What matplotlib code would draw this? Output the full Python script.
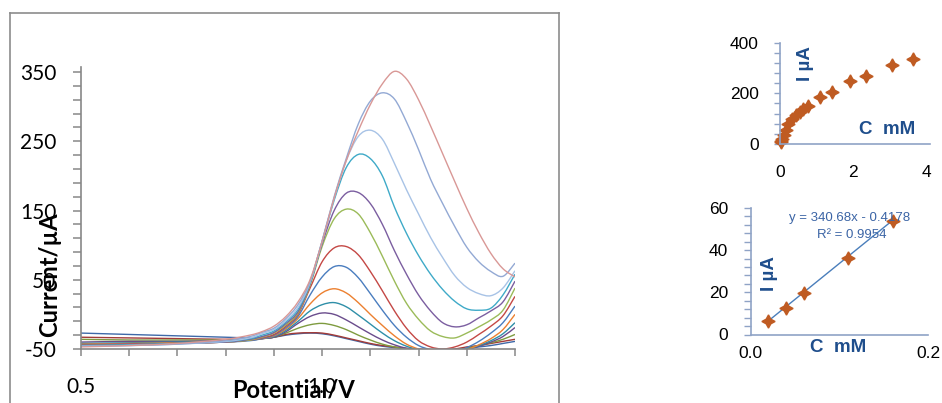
import numpy as np
import matplotlib
matplotlib.use("Agg")
import matplotlib.pyplot as plt
from matplotlib.lines import Line2D
from matplotlib.path import Path
from matplotlib.patches import PathPatch

plt.rcParams['font.family'] = ['Lato', 'DejaVu Sans']

# ---------------- data ----------------
potential = [0.50, 0.60, 0.70, 0.80, 0.85, 0.875, 0.90, 0.925, 0.95, 0.975,
             1.00, 1.025, 1.05, 1.075, 1.10, 1.125, 1.15, 1.175, 1.20, 1.225,
             1.25, 1.275, 1.30, 1.325, 1.35, 1.375, 1.40]

cur_blank = [-27, -29, -31, -33, -34, -34, -33, -30, -28, -27, -28, -31, -35, -39,
             -43, -46, -48, -50, -51, -52, -52, -51, -49, -47, -45, -42, -39]
cur_darkred = [-33, -34, -35, -36, -36, -35, -33, -29, -27, -26.5, -27, -30, -34, -38,
               -42, -45, -47, -49, -50, -51, -51, -50, -47, -45, -42, -39, -36]
cur_olive = [-36, -37, -37, -37, -36, -35, -33, -27, -20, -15, -13, -16, -22, -30,
             -37, -43, -47, -50, -52, -53, -53, -52, -49, -45, -41, -36, -29]
cur_darkpurple = [-40, -39, -39, -38, -37, -35, -33, -25, -13, -3, 2, 0, -8, -18,
                  -28, -37, -44, -49, -52, -54, -55, -54, -51, -46, -40, -32, -19]
cur_darkteal = [-42, -41, -40, -39, -37, -35, -32, -23, -10, 5, 14, 17, 11, -1,
                -14, -27, -38, -46, -51, -54, -55, -54, -51, -45, -38, -28, -12]
cur_orange = [-43, -42, -41, -39, -37, -35, -31, -21, -6, 15, 31, 37, 31, 17,
              0, -16, -31, -43, -50, -54, -56, -55, -51, -44, -35, -22, 0]
cur_blue = [-44, -43, -42, -40, -38, -35, -30, -19, -3, 28, 54, 69, 68, 53,
            30, 6, -16, -33, -45, -51, -54, -53, -48, -39, -27, -12, 12]
cur_red = [-44, -43, -42, -40, -37, -34, -29, -17, 0, 38, 76, 96, 98, 86,
           62, 34, 5, -20, -38, -47, -50, -47, -40, -29, -17, -2, 26]
cur_green = [-45, -44, -42, -40, -37, -33, -27, -15, 2, 42, 98, 138, 152, 145,
             118, 84, 48, 16, -7, -24, -32, -34, -27, -18, -8, 6, 38]
cur_purple = [-45, -44, -42, -40, -36, -32, -26, -13, 4, 44, 102, 150, 175, 176,
              160, 130, 92, 58, 28, 5, -12, -18, -15, -5, 5, 18, 48]
cur_teal = [-45, -44, -42, -39, -35, -30, -24, -11, 7, 45, 105, 165, 212, 231,
            225, 200, 155, 117, 85, 58, 36, 19, 8, 6, 9, 28, 58]
cur_lightblue = [-46, -45, -43, -39, -34, -28, -22, -9, 10, 46, 106, 168, 222, 257,
                 266, 253, 218, 180, 145, 111, 82, 56, 39, 30, 27, 38, 63]
cur_bluegrey = [-46, -45, -43, -38, -32, -26, -20, -6, 14, 48, 106, 170, 225, 275,
                308, 320, 311, 278, 238, 195, 160, 127, 97, 76, 62, 55, 74]
cur_salmon = [-47, -45, -42, -36, -30, -25, -17, -3, 18, 50, 105, 168, 222, 265,
              303, 333, 351, 340, 310, 272, 232, 192, 153, 118, 88, 66, 54]

curves = [cur_blank, cur_darkred, cur_olive, cur_darkpurple, cur_darkteal, cur_orange,
          cur_blue, cur_red, cur_green, cur_purple, cur_teal, cur_lightblue,
          cur_bluegrey, cur_salmon]
curve_colors = ['#3F69A8', '#A23B38', '#7E9B3F', '#6A4C8C', '#2F8FA8', '#EC8030',
                '#4A7DBF', '#C44845', '#9BBB59', '#7B5EA0', '#3FAAC8', '#A8C3E6',
                '#93A9D4', '#D99896']

y_ticks_main = list(range(-50, 351, 20))
y_labels_main = ['-50', '50', '150', '250', '350']
x_ticks_main = [0.5, 0.6, 0.7, 0.8, 0.9, 1.0, 1.1, 1.2, 1.3, 1.4]
x_labels_main = ['0.5', '1.0']

conc_full = [0.02, 0.04, 0.06, 0.11, 0.16, 0.23, 0.32, 0.44, 0.55, 0.64, 0.78,
             1.10, 1.42, 1.92, 2.36, 3.06, 3.65]
curr_full = [6, 13, 20, 36, 54, 80, 97, 114, 127, 137, 150, 187, 206, 250, 270, 312, 334]

conc_lin = [0.02, 0.04, 0.06, 0.11, 0.16]
curr_lin = [6.2, 12.8, 19.6, 36.5, 54.0]
fit_slope = 340.68
fit_intercept = -0.4178
fit_text = 'y = 340.68x - 0.4178'
r2_text = 'R² = 0.9954'

# ---------------- figure ----------------
W, H = 942, 403
fig = plt.figure(figsize=(W / 100, H / 100), dpi=100)


def fa(x0, y0, x1, y1):
    return [x0 / W, 1 - y1 / H, (x1 - x0) / W, (y1 - y0) / H]


def fx(x):
    return x / W


def fy(y):
    return 1 - y / H


def smooth_path(xs, ys):
    """Bezier path through the given points (Catmull-Rom style tangents)."""
    p = np.column_stack([xs, ys]).astype(float)
    n = len(p)
    verts = [p[0]]
    codes = [Path.MOVETO]
    for i in range(n - 1):
        p0 = p[i - 1] if i > 0 else p[i]
        p1, p2 = p[i], p[i + 1]
        p3 = p[i + 2] if i + 2 < n else p[i + 1]
        c1 = p1 + (p2 - p0) / 6.0
        c2 = p2 - (p3 - p1) / 6.0
        verts += [c1, c2, p2]
        codes += [Path.CURVE4] * 3
    return Path(verts, codes)


# frame
frame_c = '#8C8C8C'
for xs, ys in [([10, 10], [13, 420]), ([10, 559], [13, 13]), ([559, 559], [13, 420])]:
    fig.add_artist(Line2D([fx(v) for v in xs], [fy(v) for v in ys],
                          transform=fig.transFigure, color=frame_c, lw=1.2))

# main axes
ax = fig.add_axes(fa(81, 67.2, 515, 349))
for c, col in zip(curves, curve_colors):
    ax.add_patch(PathPatch(smooth_path(potential, c), fill=False,
                           edgecolor=col, lw=1.0))
ax.set_xlim(0.5, 1.4)
ax.set_ylim(-50, 357)
for s in ['top', 'right']:
    ax.spines[s].set_visible(False)
axis_c = '#878787'
for s in ['left', 'bottom']:
    ax.spines[s].set_color(axis_c)
    ax.spines[s].set_linewidth(1.2)
    ax.spines[s].set_zorder(3)
ax.set_yticks(y_ticks_main)
ax.set_yticklabels([str(v) if str(v) in y_labels_main else '' for v in y_ticks_main])
ax.set_xticks(x_ticks_main)
ax.set_xticklabels([f'{v:.1f}' if f'{v:.1f}' in x_labels_main else '' for v in x_ticks_main])
ax.tick_params(axis='y', direction='out', length=5.8, width=1.1, color=axis_c,
               labelsize=15, pad=12)
ax.tick_params(axis='x', direction='out', length=5.0, width=1.1, color=axis_c,
               labelsize=15, pad=15)

fig.text(fx(293), fy(390), 'Potential/V', fontsize=17, fontweight='bold',
         ha='center', va='center')
fig.text(fx(50), fy(275), 'Current/µA', fontsize=17, fontweight='bold',
         ha='center', va='center', rotation=90)

# ---------------- insets ----------------
ins_axis_c = '#8FA3C6'
lab_c = '#1F4E8C'
mk_c = '#BF5B22'
ifont = ['Liberation Sans', 'DejaVu Sans']

# top inset
a1 = fig.add_axes(fa(780, 42.7, 930, 144))
a1.plot(conc_full, curr_full, linestyle='none', marker=(4, 1, 0), ms=9.5,
        color=mk_c, clip_on=False)
a1.set_xlim(0, 4.11)
a1.set_ylim(0, 400)
for s in ['top', 'right']:
    a1.spines[s].set_visible(False)
for s in ['left', 'bottom']:
    a1.spines[s].set_color(ins_axis_c)
    a1.spines[s].set_linewidth(1.2)
yt1 = list(range(0, 401, 40))
a1.set_yticks(yt1)
a1.set_yticklabels([str(v) if v % 200 == 0 else '' for v in yt1], family=ifont)
a1.set_xticks([0, 2, 4])
a1.set_xticklabels(['0', '2', '4'], family=ifont)
a1.tick_params(axis='y', direction='out', length=4.3, width=1, color=ins_axis_c,
               labelsize=12.5, pad=11)
a1.tick_params(axis='x', length=0, labelsize=12.5, pad=15)
fig.text(fx(805), fy(64), 'I µA', fontsize=13.5, fontweight='bold', color=lab_c,
         ha='center', va='center', rotation=90, family=ifont)
fig.text(fx(887), fy(130), 'C  mM', fontsize=13.5, fontweight='bold', color=lab_c,
         ha='center', va='center', family=ifont)

# bottom inset
a2 = fig.add_axes(fa(750.5, 208, 928, 334.5))
xs_fit = np.array([conc_lin[0], conc_lin[-1]])
a2.plot(xs_fit, fit_slope * xs_fit + fit_intercept, color='#4A7EBB', lw=1.0)
a2.plot(conc_lin, curr_lin, linestyle='none', marker=(4, 1, 0), ms=9.5,
        color=mk_c, clip_on=False)
a2.set_xlim(0, 0.2)
a2.set_ylim(0, 60)
for s in ['top', 'right']:
    a2.spines[s].set_visible(False)
for s in ['left', 'bottom']:
    a2.spines[s].set_color(ins_axis_c)
    a2.spines[s].set_linewidth(1.2)
yt2 = list(range(0, 61, 4))
a2.set_yticks(yt2)
a2.set_yticklabels([str(v) if v % 20 == 0 else '' for v in yt2], family=ifont)
a2.set_xticks([0, 0.2])
a2.set_xticklabels(['0.0', '0.2'], family=ifont)
a2.tick_params(axis='y', direction='out', length=5, width=1, color=ins_axis_c,
               labelsize=12.5, pad=11)
a2.tick_params(axis='x', length=0, labelsize=12.5, pad=8)
fig.text(fx(770), fy(274), 'I µA', fontsize=13.5, fontweight='bold', color=lab_c,
         ha='center', va='center', rotation=90, family=ifont)
fig.text(fx(838), fy(347), 'C  mM', fontsize=13.5, fontweight='bold', color=lab_c,
         ha='center', va='center', family=ifont)
fig.text(fx(850), fy(218), fit_text, fontsize=9.5, color='#3B64A5',
         ha='center', va='center', family=ifont)
fig.text(fx(852), fy(235), r2_text, fontsize=9.5, color='#3B64A5',
         ha='center', va='center', family=ifont)

fig.savefig('out.png', dpi=100)
